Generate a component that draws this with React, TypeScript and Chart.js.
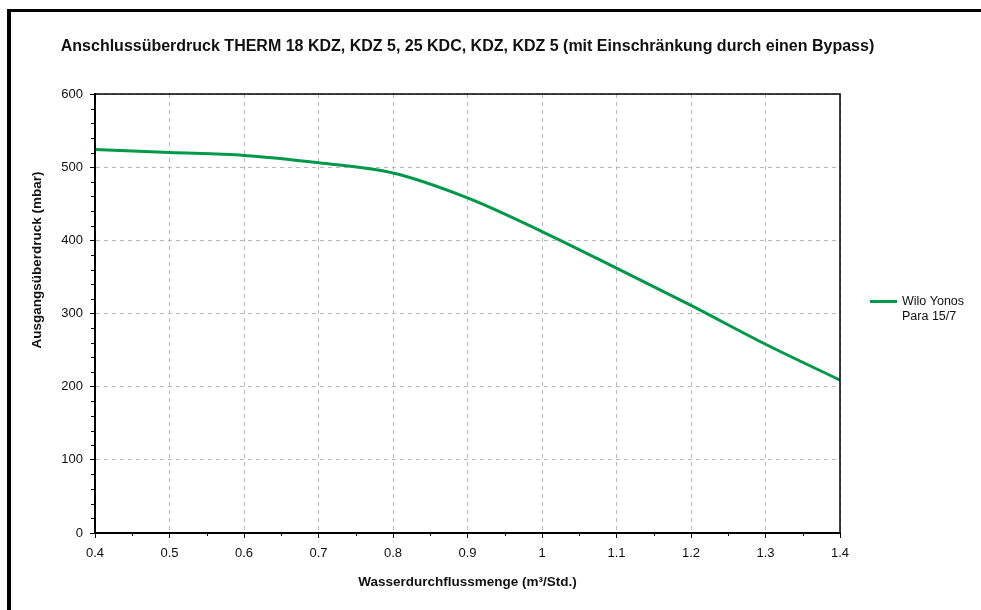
import React, { useEffect, useRef } from "react";
import { Chart, registerables } from "chart.js";

Chart.register(...registerables);

const chartTitle =
  "Anschlussüberdruck THERM 18 KDZ, KDZ 5, 25 KDC, KDZ, KDZ 5 (mit Einschränkung durch einen Bypass)";
const xAxisTitle = "Wasserdurchflussmenge (m³/Std.)";
const yAxisTitle = "Ausgangsüberdruck (mbar)";
const seriesLabelLines = ["Wilo Yonos", "Para 15/7"];

const flowRates = [0.4, 0.5, 0.6, 0.7, 0.8, 0.9, 1.0, 1.1, 1.2, 1.3, 1.4];
const pressures = [524, 520, 516, 506, 492, 458, 412, 362, 311, 258, 209];

const xTickValues = [0.4, 0.5, 0.6, 0.7, 0.8, 0.9, 1.0, 1.1, 1.2, 1.3, 1.4];
const xMinorTickValues = [0.45, 0.55, 0.65, 0.75, 0.85, 0.95, 1.05, 1.15, 1.25, 1.35];
const yTickValues = [0, 100, 200, 300, 400, 500, 600];
const yMinorStep = 20;

const GREEN = "#00994a";
const FONT = "'Liberation Sans', Arial, sans-serif";

const decorPlugin = {
  id: "decor",
  afterDatasetsDraw(chart: any) {
    const { ctx, chartArea } = chart;
    const { left, right, top, bottom } = chartArea;
    ctx.save();
    ctx.strokeStyle = "#000";
    ctx.lineWidth = 1.5;
    ctx.strokeRect(left, top, right - left, bottom - top);
    ctx.restore();
  },
  afterDraw(chart: any) {
    const { ctx, chartArea } = chart;
    const { left, right, bottom } = chartArea;
    const xs = chart.scales.x;
    const ys = chart.scales.y;
    ctx.save();
    // outer frame (only top and left visible)
    ctx.fillStyle = "#000";
    ctx.fillRect(7, 9, chart.width, 3);
    ctx.fillRect(7, 9, 4, chart.height);

    // minor ticks
    ctx.strokeStyle = "#000";
    ctx.lineWidth = 1;
    ctx.beginPath();
    for (const v of xMinorTickValues) {
      const px = Math.round(xs.getPixelForValue(v)) + 0.5;
      ctx.moveTo(px, bottom);
      ctx.lineTo(px, bottom + 3);
    }
    for (let v = 0; v <= 600; v += yMinorStep) {
      if (v % 100 === 0) continue;
      const py = Math.round(ys.getPixelForValue(v)) + 0.5;
      ctx.moveTo(left - 4, py);
      ctx.lineTo(left, py);
    }
    ctx.stroke();

    // chart title
    ctx.fillStyle = "#111";
    ctx.font = `bold 16px ${FONT}`;
    ctx.textAlign = "center";
    ctx.textBaseline = "alphabetic";
    ctx.fillText(chartTitle, (left + right) / 2, 51);

    // y axis title
    ctx.save();
    ctx.translate(37, 260);
    ctx.rotate(-Math.PI / 2);
    ctx.font = `bold 13.5px ${FONT}`;
    ctx.textBaseline = "middle";
    ctx.textAlign = "center";
    ctx.fillText(yAxisTitle, 0, 0);
    ctx.restore();

    // legend
    ctx.strokeStyle = GREEN;
    ctx.lineWidth = 3;
    ctx.beginPath();
    ctx.moveTo(870, 301.5);
    ctx.lineTo(897, 301.5);
    ctx.stroke();
    ctx.fillStyle = "#111";
    ctx.font = `12.5px ${FONT}`;
    ctx.textAlign = "left";
    ctx.textBaseline = "middle";
    seriesLabelLines.forEach((t, i) => ctx.fillText(t, 902, 302 + i * 14.5));
    ctx.restore();
  },
};

export default function App() {
  const ref = useRef<HTMLCanvasElement | null>(null);
  useEffect(() => {
    if (!ref.current) return;
    const chart = new Chart(ref.current, {
      type: "line",
      data: {
        datasets: [
          {
            label: seriesLabelLines.join(" "),
            data: flowRates.map((x, i) => ({ x, y: pressures[i] })),
            borderColor: GREEN,
            backgroundColor: GREEN,
            borderWidth: 3,
            pointRadius: 0,
            cubicInterpolationMode: "monotone",
            fill: false,
          },
        ],
      },
      options: {
        animation: false,
        responsive: false,
        layout: { padding: { left: 0, top: 94, right: 141, bottom: 0 } },
        plugins: {
          legend: { display: false },
          title: { display: false },
          tooltip: { enabled: false },
        },
        scales: {
          x: {
            type: "linear",
            min: 0.4,
            max: 1.4,
            afterBuildTicks: (s: any) => {
              s.ticks = xTickValues.map((v) => ({ value: v }));
            },
            afterFit: (s: any) => {
              s.height = 77;
            },
            ticks: {
              padding: 8,
              color: "#111",
              font: { family: FONT, size: 13 },
              maxRotation: 0,
              autoSkip: false,
              callback: (v: any) => String(Math.round(Number(v) * 10) / 10),
            },
            grid: {
              color: "#bababa",
              lineWidth: 1,
              tickColor: "#000",
              tickLength: 5,
              tickWidth: 1,
            },
            border: { display: true, color: "#000", width: 2, dash: [4, 4] },
            title: {
              display: true,
              text: xAxisTitle,
              color: "#111",
              font: { family: FONT, size: 13.5, weight: "bold" },
              padding: { top: 0, bottom: 20 },
            },
          },
          y: {
            type: "linear",
            min: 0,
            max: 600,
            afterBuildTicks: (s: any) => {
              s.ticks = yTickValues.map((v) => ({ value: v }));
            },
            afterFit: (s: any) => {
              s.width = 95;
            },
            ticks: {
              padding: 7,
              color: "#111",
              font: { family: FONT, size: 13 },
              callback: (v: any) => String(v),
            },
            grid: {
              color: "#bababa",
              lineWidth: 1,
              tickColor: "#000",
              tickLength: 5,
              tickWidth: 1,
            },
            border: { display: true, color: "#000", width: 2, dash: [4, 4] },
          },
        },
      },
      plugins: [decorPlugin],
    } as any);
    return () => chart.destroy();
  }, []);
  return (
    <div style={{ position: "fixed", left: 0, top: 0, width: 981, height: 610, background: "#fff" }}>
      <canvas ref={ref} width={981} height={610} style={{ display: "block", width: 981, height: 610 }} />
    </div>
  );
}
